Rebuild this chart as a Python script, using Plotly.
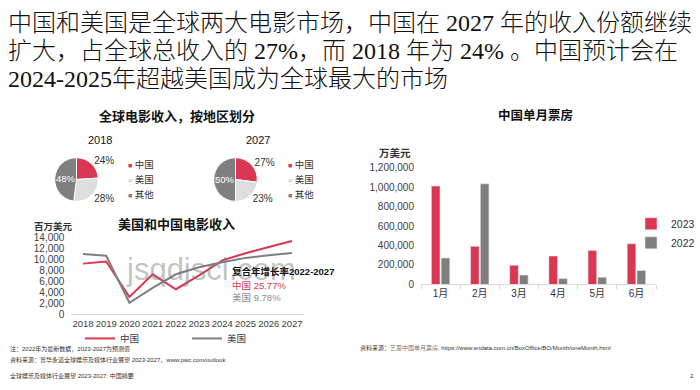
import plotly.graph_objects as go

W, H = 700, 390

# ---------------- data ----------------
regions = ["中国", "美国", "其他"]
share_2018 = [24, 28, 48]
share_2027 = [27, 23, 50]

years = ["2018", "2019", "2020", "2021", "2022", "2023", "2024", "2025", "2026", "2027"]
china_rev = [9250, 9650, 3150, 7300, 4570, 7100, 9850, 11150, 12300, 13400]
us_rev = [11000, 10700, 2100, 4800, 7300, 8600, 9500, 10300, 10800, 11200]

months = ["1月", "2月", "3月", "4月", "5月", "6月"]
box_2023 = [1010000, 391000, 196000, 292000, 348000, 418000]
box_2022 = [272000, 1034000, 96000, 60000, 73000, 143000]

RED = "#DA3752"
DGRAY = "#7F7F7F"
LGRAY = "#DEDEDE"
FONT = "Liberation Sans, Arial, Noto Sans CJK SC, sans-serif"


def px(x):
    return x / W


def py(y):
    return 1 - y / H


fig = go.Figure()

# ---------------- pies ----------------
for vals, cx, cy in [(share_2018, 76.5, 179), (share_2027, 235.5, 179)]:
    r = 22.5
    fig.add_trace(go.Pie(
        labels=regions, values=vals, sort=False, direction="clockwise", rotation=0,
        marker=dict(colors=[RED, LGRAY, DGRAY], line=dict(color="white", width=1)),
        texttemplate="%{value}%", textposition=["outside", "outside", "inside"],
        insidetextorientation="horizontal",
        insidetextfont=dict(color="white", size=10, family=FONT),
        outsidetextfont=dict(color="#333333", size=10, family=FONT),
        domain=dict(x=[px(cx - r), px(cx + r)], y=[py(cy + r), py(cy - r)]),
        showlegend=False, hoverinfo="label+percent",
    ))

# ---------------- line chart ----------------
fig.add_trace(go.Scatter(x=years, y=china_rev, mode="lines", name="中国",
                         line=dict(color=RED, width=2), xaxis="x", yaxis="y",
                         legend="legend", cliponaxis=False))
fig.add_trace(go.Scatter(x=years, y=us_rev, mode="lines", name="美国",
                         line=dict(color=DGRAY, width=2), xaxis="x", yaxis="y",
                         legend="legend", cliponaxis=False))

# ---------------- bar chart ----------------
fig.add_trace(go.Bar(x=months, y=box_2023, name="2023", marker=dict(color=RED),
                     xaxis="x2", yaxis="y2", legend="legend2"))
fig.add_trace(go.Bar(x=months, y=box_2022, name="2022", marker=dict(color=DGRAY),
                     xaxis="x2", yaxis="y2", legend="legend2"))

ann = []


def text(x, y, s, size=10, color="#333333", xanchor="center", family=FONT, bold=False,
         weight=None):
    if bold:
        s = "<b>" + s + "</b>"
    f = dict(size=size, color=color, family=family)
    if weight is not None:
        f["weight"] = weight
    ann.append(dict(x=px(x), y=py(y), xref="paper", yref="paper", text=s, showarrow=False,
                    xanchor=xanchor, yanchor="middle", font=f))


TFONT = "Liberation Serif, Noto Sans CJK SC, serif"
text(6, 18, "中国和美国是全球两大电影市场，中国在 2027 年的收入份额继续", 24, "#111111", "left", TFONT, weight=300)
text(6, 46.5, "扩大，占全球总收入的 27%，而 2018 年为 24% 。中国预计会在", 24, "#111111", "left", TFONT, weight=300)
text(6, 75, "2024-2025年超越美国成为全球最大的市场", 24, "#111111", "left", TFONT, weight=300)

# pie section
text(177, 114, "全球电影收入，按地区划分", 13, "#111111", bold=True)
text(100, 138, "2018", 11, "#111111")
text(258, 138, "2027", 11, "#111111")
for lx in (126, 286):
    for (lab, col), yy in zip(zip(regions, [RED, LGRAY, DGRAY]), [164, 179, 194]):
        ann.append(dict(x=px(lx), y=py(yy), xref="paper", yref="paper", showarrow=False,
                        xanchor="left", yanchor="middle",
                        text=f"<span style='color:{col};font-size:7px'>■</span> {lab}",
                        font=dict(size=9.5, color="#333333", family=FONT)))

# line chart texts
text(177, 225, "美国和中国电影收入", 13, "#111111", bold=True)
text(53, 228, "百万美元", 9.5, "#333333", bold=True)
text(211, 272, "jsqdjscl.com", 31, "rgba(120,120,120,0.45)")
text(230, 274, "复合年增长率2022-2027", 9.5, "#111111", "left", bold=True)
text(230, 288, "中国 25.77%", 9.5, RED, "left")
text(230, 301, "美国 9.78%", 9.5, "#8C8C8C", "left")

# bar chart texts
text(535, 113, "中国单月票房", 12.5, "#111111", bold=True)
text(395, 152, "万美元", 10.5, "#333333", bold=True)

# footnotes
text(8, 354, "注：2022年为最新数据，2023-2027为预测值", 6, "#333333", "left")
text(8, 365, "资料来源：普华永道全球娱乐及媒体行业展望 2023-2027，www.pwc.com/outlook", 6, "#333333", "left")
text(8, 382, "全球娱乐及媒体行业展望 2023-2027: 中国摘要", 6, "#333333", "left")
text(696, 382, "2", 6, "#333333", "right")
text(358, 353, "资料来源：<span style='color:#777777'>艺恩中国单月票房</span>, https://www.endata.com.cn/BoxOffice/BO/Month/oneMonth.html",
     6, "#333333", "left")

fig.update_layout(
    width=W, height=H, margin=dict(l=0, r=0, t=0, b=0),
    paper_bgcolor="white", plot_bgcolor="white",
    font=dict(family=FONT, size=10, color="#404040"),
    annotations=ann,
    bargap=0.5, bargroupgap=0.12, barmode="group",
    xaxis=dict(domain=[px(71.4), px(303.6)], anchor="y", type="category", range=[-0.5, 9.5],
               showline=True, linecolor="#D9D9D9", linewidth=1, ticks="", showgrid=False,
               tickangle=0, tickfont=dict(size=9.5, color="#404040"), fixedrange=True),
    yaxis=dict(domain=[py(318), py(239)], anchor="x", range=[0, 14000], dtick=2000,
               tickformat=",", showgrid=False, zeroline=False, showline=False,
               tickfont=dict(size=10, color="#404040"), ticklabelstandoff=6),
    xaxis2=dict(domain=[px(421), px(656)], anchor="y2", type="category",
                showline=True, linecolor="#D9D9D9", linewidth=1, ticks="outside",
                tickson="boundaries", ticklen=4, tickcolor="#D9D9D9", showgrid=False,
                tickangle=0, tickfont=dict(size=10, color="#333333")),
    yaxis2=dict(domain=[py(287.3), py(166.7)], anchor="x2", range=[0, 1200000], dtick=200000,
                tickformat=",", showgrid=False, zeroline=False, showline=False,
                tickfont=dict(size=10, color="#404040"), ticklabelstandoff=6),
    legend=dict(orientation="h", x=px(80), y=py(343), xanchor="left", yanchor="middle",
                entrywidth=62, font=dict(size=9.5, color="#404040"), bgcolor="rgba(0,0,0,0)"),
    legend2=dict(orientation="v", x=1.0, y=py(234.5), xanchor="right", yanchor="middle",
                 font=dict(size=10.5, color="#333333"), bgcolor="rgba(0,0,0,0)",
                 tracegroupgap=0),
)

fig.write_html("out.html", config={"displayModeBar": False},
               post_script="document.body.style.margin='0';document.body.style.overflow='hidden';")
